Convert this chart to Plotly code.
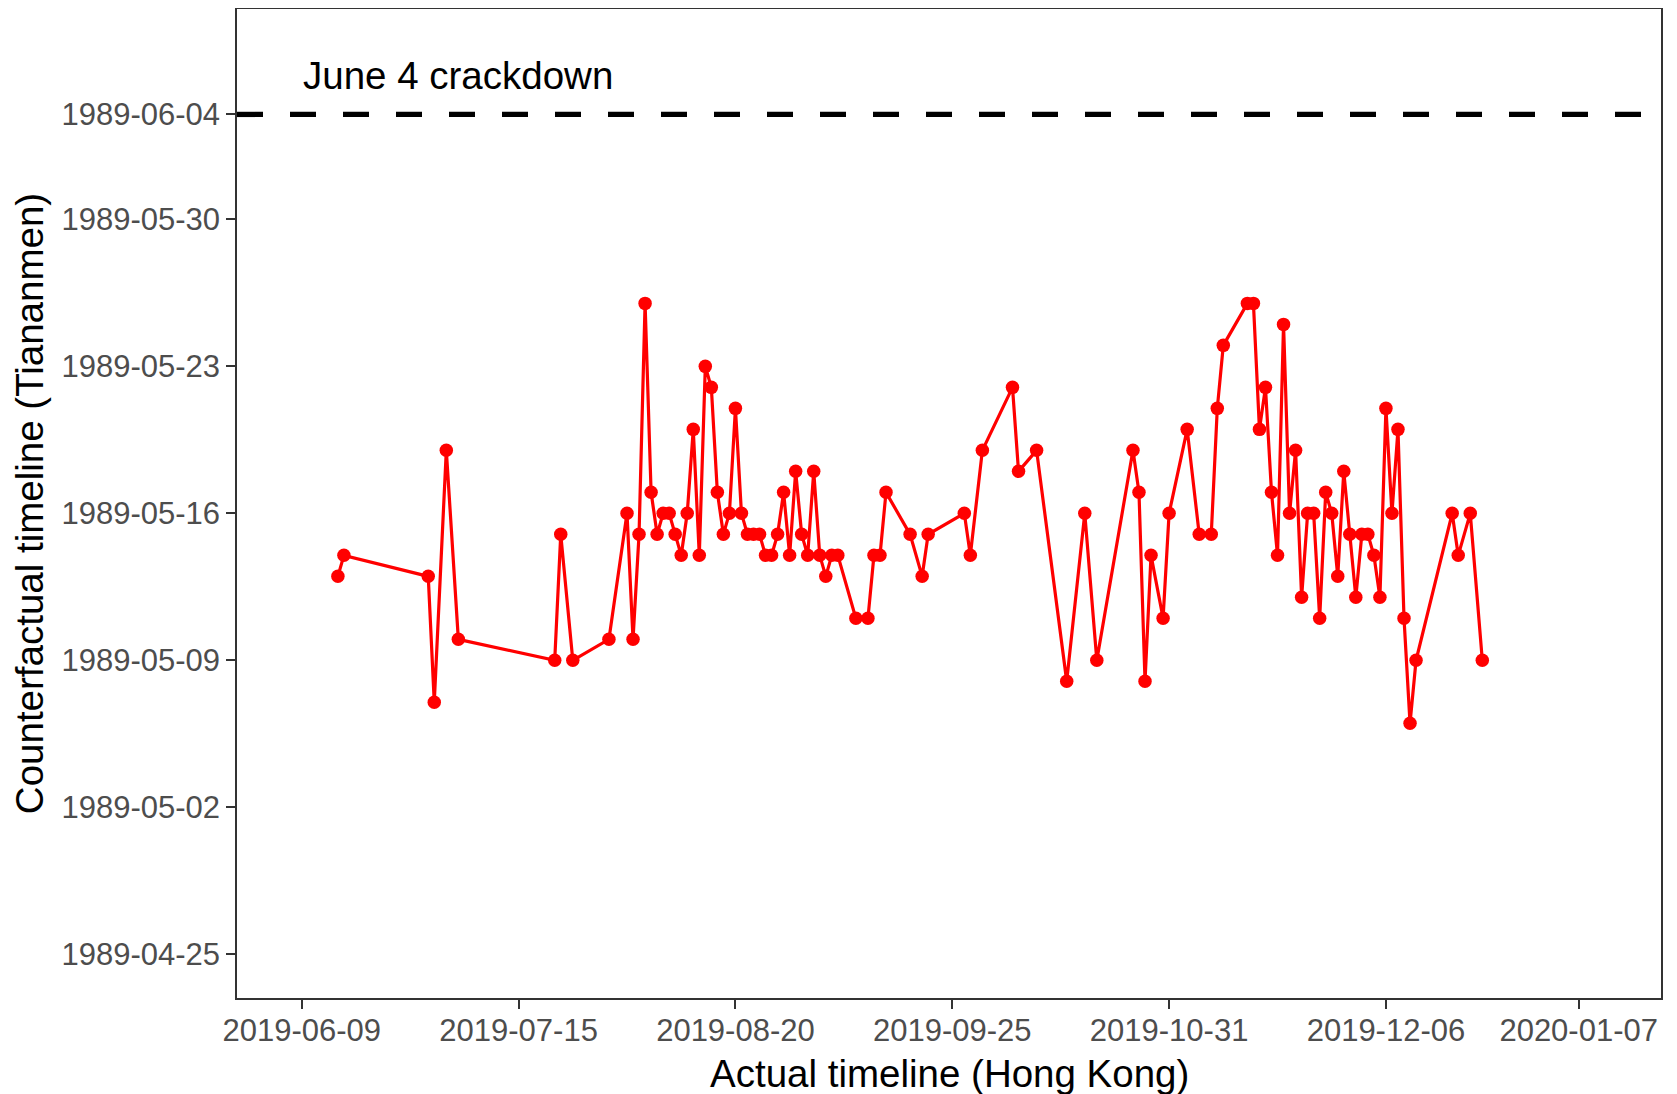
import plotly.graph_objects as go

# Actual timeline (Hong Kong) dates
hk_dates = [
    "2019-06-15", "2019-06-16", "2019-06-30", "2019-07-01", "2019-07-03", "2019-07-05",
    "2019-07-21", "2019-07-22", "2019-07-24", "2019-07-30", "2019-08-02", "2019-08-03",
    "2019-08-04", "2019-08-05", "2019-08-06", "2019-08-07", "2019-08-08", "2019-08-09",
    "2019-08-10", "2019-08-11", "2019-08-12", "2019-08-13", "2019-08-14", "2019-08-15",
    "2019-08-16", "2019-08-17", "2019-08-18", "2019-08-19", "2019-08-20", "2019-08-21",
    "2019-08-22", "2019-08-23", "2019-08-24", "2019-08-25", "2019-08-26", "2019-08-27",
    "2019-08-28", "2019-08-29", "2019-08-30", "2019-08-31", "2019-09-01", "2019-09-02",
    "2019-09-03", "2019-09-04", "2019-09-05", "2019-09-06", "2019-09-09", "2019-09-11",
    "2019-09-12", "2019-09-13", "2019-09-14", "2019-09-18", "2019-09-20", "2019-09-21",
    "2019-09-27", "2019-09-28", "2019-09-30", "2019-10-05", "2019-10-06", "2019-10-09",
    "2019-10-14", "2019-10-17", "2019-10-19", "2019-10-25", "2019-10-26", "2019-10-27",
    "2019-10-28", "2019-10-30", "2019-10-31", "2019-11-03", "2019-11-05", "2019-11-07",
    "2019-11-08", "2019-11-09", "2019-11-13", "2019-11-14", "2019-11-15", "2019-11-16",
    "2019-11-17", "2019-11-18", "2019-11-19", "2019-11-20", "2019-11-21", "2019-11-22",
    "2019-11-23", "2019-11-24", "2019-11-25", "2019-11-26", "2019-11-27", "2019-11-28",
    "2019-11-29", "2019-11-30", "2019-12-01", "2019-12-02", "2019-12-03", "2019-12-04",
    "2019-12-05", "2019-12-06", "2019-12-07", "2019-12-08", "2019-12-09", "2019-12-10",
    "2019-12-11", "2019-12-17", "2019-12-18", "2019-12-20", "2019-12-22",
]

# Counterfactual timeline (Tiananmen) dates
tam_dates = [
    "1989-05-13", "1989-05-14", "1989-05-13", "1989-05-07", "1989-05-19", "1989-05-10",
    "1989-05-09", "1989-05-15", "1989-05-09", "1989-05-10", "1989-05-16", "1989-05-10",
    "1989-05-15", "1989-05-26", "1989-05-17", "1989-05-15", "1989-05-16", "1989-05-16",
    "1989-05-15", "1989-05-14", "1989-05-16", "1989-05-20", "1989-05-14", "1989-05-23",
    "1989-05-22", "1989-05-17", "1989-05-15", "1989-05-16", "1989-05-21", "1989-05-16",
    "1989-05-15", "1989-05-15", "1989-05-15", "1989-05-14", "1989-05-14", "1989-05-15",
    "1989-05-17", "1989-05-14", "1989-05-18", "1989-05-15", "1989-05-14", "1989-05-18",
    "1989-05-14", "1989-05-13", "1989-05-14", "1989-05-14", "1989-05-11", "1989-05-11",
    "1989-05-14", "1989-05-14", "1989-05-17", "1989-05-15", "1989-05-13", "1989-05-15",
    "1989-05-16", "1989-05-14", "1989-05-19", "1989-05-22", "1989-05-18", "1989-05-19",
    "1989-05-08", "1989-05-16", "1989-05-09", "1989-05-19", "1989-05-17", "1989-05-08",
    "1989-05-14", "1989-05-11", "1989-05-16", "1989-05-20", "1989-05-15", "1989-05-15",
    "1989-05-21", "1989-05-24", "1989-05-26", "1989-05-26", "1989-05-20", "1989-05-22",
    "1989-05-17", "1989-05-14", "1989-05-25", "1989-05-16", "1989-05-19", "1989-05-12",
    "1989-05-16", "1989-05-16", "1989-05-11", "1989-05-17", "1989-05-16", "1989-05-13",
    "1989-05-18", "1989-05-15", "1989-05-12", "1989-05-15", "1989-05-15", "1989-05-14",
    "1989-05-12", "1989-05-21", "1989-05-16", "1989-05-20", "1989-05-11", "1989-05-06",
    "1989-05-09", "1989-05-16", "1989-05-14", "1989-05-16", "1989-05-09",
]

x_tick_vals = ["2019-06-09", "2019-07-15", "2019-08-20", "2019-09-25",
               "2019-10-31", "2019-12-06", "2020-01-07"]
y_tick_vals = ["1989-04-25", "1989-05-02", "1989-05-09", "1989-05-16",
               "1989-05-23", "1989-05-30", "1989-06-04"]

x_title = "Actual timeline (Hong Kong)"
y_title = "Counterfactual timeline (Tiananmen)"

crackdown_date = "1989-06-04"
crackdown_label = "June 4 crackdown"
label_x = "2019-07-05"
label_y = "1989-06-05 20:00"

x_range = ["2019-05-29 06:00", "2020-01-20 16:00"]
y_range = ["1989-04-22 22:00", "1989-06-09 00:30"]

FONT = "Liberation Sans, Arial, Helvetica, sans-serif"

fig = go.Figure()
fig.add_trace(go.Scatter(
    x=hk_dates, y=tam_dates, mode="lines+markers",
    line=dict(color="#FF0000", width=3.2),
    marker=dict(color="#FF0000", size=13.5),
    showlegend=False,
))

fig.add_shape(type="line", xref="paper", x0=0, x1=1, yref="y",
              y0=crackdown_date, y1=crackdown_date,
              line=dict(color="black", width=5.3, dash="26px,27px"))

fig.add_annotation(x=label_x, y=label_y, text=crackdown_label, showarrow=False,
                   xanchor="center", yanchor="middle",
                   font=dict(family=FONT, size=38.5, color="black"))

# x-axis title drawn as an annotation below the plot
fig.add_annotation(x=0.5, y=0, xref="paper", yref="paper", text=x_title,
                   showarrow=False, xanchor="center", yanchor="middle",
                   yshift=-75,
                   font=dict(family=FONT, size=38.5, color="black"))

axis_common = dict(
    showgrid=False, zeroline=False,
    showline=True, mirror=True, linecolor="#333333", linewidth=1.5,
    ticks="outside", ticklen=9, tickwidth=1.5, tickcolor="#333333",
    tickfont=dict(family=FONT, size=31, color="#4D4D4D"),
)

fig.update_xaxes(
    type="date", range=x_range, tickmode="array",
    tickvals=x_tick_vals, ticktext=x_tick_vals,
    ticklabelstandoff=-5,
    **axis_common,
)
fig.update_yaxes(
    type="date", range=y_range, tickmode="array",
    tickvals=y_tick_vals, ticktext=y_tick_vals,
    title=dict(text=y_title, standoff=12,
               font=dict(family=FONT, size=38.5, color="black")),
    **axis_common,
)

# page body has an 8px margin, so the figure is offset by 8px
fig.update_layout(
    width=1661, height=1086,
    margin=dict(l=229, r=8, t=1, b=96, autoexpand=False),
    plot_bgcolor="white", paper_bgcolor="white",
    font=dict(family=FONT),
)

fig.write_html("out.html")
